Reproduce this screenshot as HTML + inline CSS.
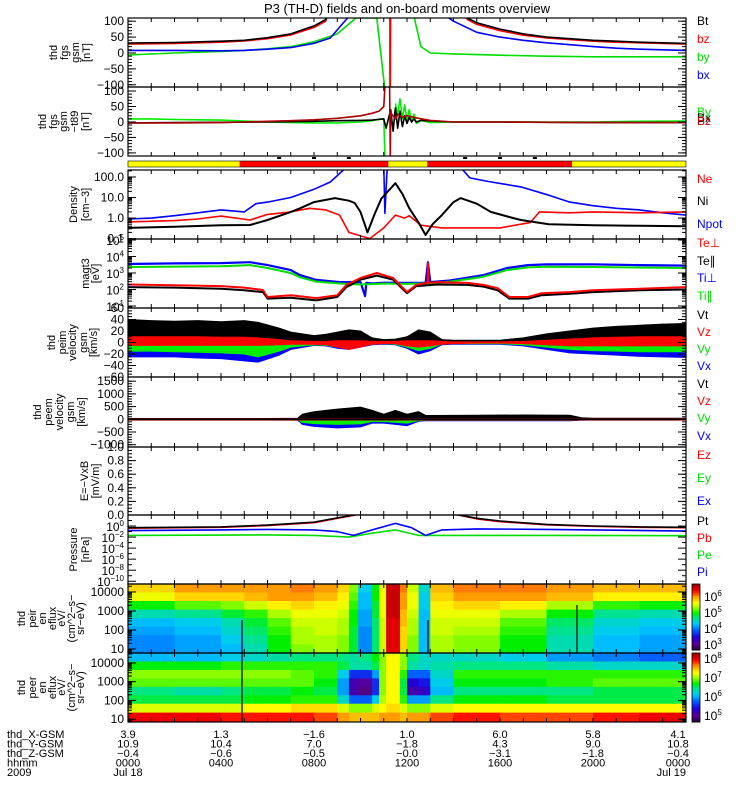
<!DOCTYPE html>
<html><head><meta charset="utf-8">
<style>
html,body{margin:0;padding:0;background:#fff;}
svg{display:block;font-family:"Liberation Sans",sans-serif;}
</style></head>
<body>
<svg id="chart" width="750" height="800" viewBox="0 0 750 800" xmlns="http://www.w3.org/2000/svg">
<rect x="0" y="0" width="750" height="800" fill="#fff"/>
<text x="407" y="13" font-size="13" text-anchor="middle">P3 (TH-D) fields and on-board moments overview</text>
<g id="g"></g>
</svg>
<script>
// ---------------- DATA ----------------
const tBt=[0,2,4,5,6,7,8,8.5,9,14,14.6,15,16,17,18,19,20,21,22,23,24];
const vBt=[31,33,37,40,48,60,85,105,200,200,110,95,75,60,50,45,40,37,34,32,30];
const tBz=[0,2,4,5,6,7,8,8.5,9,11.26,11.28,11.3,14,14.6,15,16,17,18,19,20,21,22,23,24];
const vBz=[28,30,34,38,45,57,80,100,200,200,-115,200,200,105,90,70,56,47,42,37,34,32,30,28];
const tBy=[0,2,4,5,6,7,8,9,9.8,10.7,11.05,11.1,11.25,11.27,11.29,12.3,12.6,13,14,15,16,18,20,22,24];
const vBy=[-6,0,5,8,13,20,35,60,110,110,-115,null,-115,115,null,115,20,0,-3,-5,-7,-10,-12,-12,-12];
const tBx=[0,2,4,5,6,7,8,8.7,9.5,13.7,14,15,16,17,18,19,20,21,22,23,24];
const vBx=[8,8,7,8,12,17,30,47,115,115,100,65,50,40,32,26,20,15,12,10,8];
const tRg=[0,1,2,3,4,5,6,7,8,9,10,10.5,10.9,11.0,11.05,11.15,11.5,11.6,11.7,11.8,11.9,12.0,12.1,12.2,12.3,12.4,12.6,13,14,16,18,20,22,24];
const vRg=[10,10,8,7,6,3,0,-2,-3,-3,0,4,10,10,-115,null,60,20,75,10,55,5,40,0,25,-5,5,-2,0,0,0,0,2,3];
const tRk=[0,2,4,6,8,9,10,10.5,11,11.1,11.3,11.4,11.5,11.6,11.7,11.8,11.9,12.0,12.1,12.2,12.3,12.4,12.6,13,14,16,20,24];
const vRk=[-3,-2,-1,0,2,4,5,6,10,-20,40,-30,45,-20,35,-15,20,-5,15,0,10,0,5,3,0,0,-2,-2];
const tRr=[0,2,4,5,6,7,8,9,10,10.5,10.8,11.0,11.05,11.25,11.28,11.3,11.5,11.6,11.8,12.0,12.5,13,14,16,20,24];
const vRr=[-3,-3,-2,0,2,4,7,12,20,28,35,50,115,115,-115,30,10,25,15,20,12,5,0,0,-2,-2];
const barT=[0,4.8,11.2,12.87,19.1,24];
const barState=['y','r','y','r','y'];
const tNpot=[0,1,2,3,4,5,5.5,6,7,8,8.7,9.4,10.9,11.0,11.05,11.15,14.3,14.7,15.5,16.9,18.1,19,20,21,22,23,24];
const vNpot=[0.9,1.0,1.3,1.8,2.5,2.0,5,6,10,25,57,300,300,300,1.7,300,300,90,60,33,13,6,4,3,2.5,1.8,1.4];
const tNi=[0,2,4,5.25,6,7,7.4,8,8.9,9.5,9.75,10,10.3,10.6,10.9,11.5,11.8,12.1,12.5,12.8,13.1,13.5,14,14.3,15,15.6,16.3,16.9,18.1,20,22,24];
const vNi=[0.33,0.38,0.45,0.46,0.8,2,3,6,9.4,7,5.4,2,0.2,1.5,9,50,15,3,0.6,0.15,0.5,1.4,6,9.4,5,2,1.2,0.8,0.5,0.45,0.42,0.4];
const tNe=[0,2,3,4,5.25,6,7,7.8,8.5,9.1,9.5,10.4,11,11.5,11.9,12.1,12.6,13.5,16,17.3,17.7,19,20,22,24];
const vNe=[0.65,0.75,0.9,1.25,0.8,1.5,2,3,2.5,1.4,0.2,0.1,0.33,1.4,1,1.3,0.45,0.33,0.33,0.6,2,1.8,2,1.8,2];
const tTip=[0,2,4,5.25,6,7,7.4,8.1,9.1,10,10.2,10.25,10.5,11,12,12.8,12.9,13.0,13.85,15.3,16.3,17.2,18,20,22,24];
const vTip=[3500,3800,4000,4500,3000,1500,750,380,280,280,40,250,230,260,250,250,4500,280,350,750,2000,3000,3300,3300,3000,2800];
const tTil=[0,4,5.25,6,7,7.4,8.1,9.1,10,11,12,13,13.85,15.3,16.3,17.2,18,20,24];
const vTil=[2300,2600,3000,2000,1000,550,300,230,200,230,220,240,300,600,1500,2200,2400,2300,2000];
const tTep=[0,2,4,5,5.8,6.0,7,8.1,9,9.4,10,10.7,11.4,12,12.4,12.88,12.9,12.92,13.3,14.6,15.3,15.9,16.4,17.2,17.8,19,20,22,24];
const vTep=[200,180,160,130,93,35,45,30,45,190,500,1000,500,70,190,250,4000,250,280,250,190,120,35,35,60,70,90,110,140];
const tTel=[0,2,4,5,5.8,6.0,7,8.1,9,9.4,10,10.7,11.4,12,12.4,13.3,14.6,15.3,15.9,16.4,17.2,17.8,19,20,22,24];
const vTel=[140,130,110,90,70,28,32,22,35,140,400,700,400,60,160,200,190,150,90,28,28,45,55,70,90,100];
const tV=[0,1,2,3,4,5,5.6,6.5,7,8,8.5,9,9.5,10,10.5,11,11.5,12,12.5,13,13.5,14,15,16,17,18,19,20,21,22,23,24];
const vtHi=[40,38,37,38,36,38,35,25,18,12,14,18,22,20,8,5,6,10,22,18,5,4,4,4,8,15,20,25,28,30,32,33];
const vtLo=[5,5,5,4,4,4,3,2,1,1,1,1,1,1,1,0,0,1,1,1,0,0,0,0,1,2,3,4,5,5,5,5];
const vzHi=[10,10,10,10,9,9,8,5,3,2,2,3,3,3,2,2,2,3,3,3,2,1,1,1,2,4,6,8,9,10,10,10];
const vzLo=[-5,-5,-5,-5,-5,-5,-5,-4,-3,-3,-4,-8,-12,-8,-3,-2,-2,-6,-8,-6,-3,-2,-1,-1,-2,-4,-6,-6,-6,-6,-6,-6];
const vyLo=[-15,-15,-16,-17,-18,-20,-25,-15,-8,-4,-5,-8,-10,-6,-3,-2,-3,-8,-14,-10,-3,-2,-2,-2,-4,-8,-12,-14,-15,-16,-16,-16];
const vxLo=[-25,-25,-25,-27,-28,-32,-34,-22,-12,-5,-6,-10,-12,-8,-4,-3,-4,-10,-20,-14,-4,-3,-3,-3,-6,-12,-18,-20,-22,-24,-25,-26];
const tP=[0,2,4,6,7.3,7.5,8,9,10,10.5,11,11.5,12,12.5,12.8,13,15,17,19,19.5,20,22,24];
const evtHi=[30,30,30,30,40,200,300,400,480,350,200,350,200,300,150,150,160,170,160,60,40,40,40];
const evxLo=[-20,-20,-20,-20,-30,-200,-280,-340,-300,-150,-150,-200,-250,-80,-60,-60,-60,-60,-60,-30,-20,-20,-20];
const evyLo=[-12,-12,-12,-12,-18,-120,-170,-200,-180,-90,-90,-120,-150,-50,-35,-35,-35,-35,-35,-18,-12,-12,-12];
const tPt=[0,4,6,8,9,10,14,15,16,18,20,22,24];
const vPt=[0.5,0.7,1.5,5,30,150,150,25,8,2,1,0.7,0.6];
const vPb=[0.4,0.6,1.2,4,25,150,150,20,6,1.7,0.9,0.6,0.5];
const tPi=[0,4,6,8,9,9.7,10.5,11.5,12.2,12.8,13.5,15,18,21,24];
const vPi=[0.15,0.2,0.25,0.2,0.1,0.02,0.2,3,0.5,0.02,0.2,0.3,0.25,0.18,0.12];
const tPe=[0,6,8,9.5,10.5,11.5,12.5,14,18,24];
const vPe=[0.02,0.025,0.02,0.01,0.05,0.2,0.02,0.02,0.02,0.018];
const tE=[0,2,4,5,6,7,8,9,9.5,9.9,10.5,10.8,11.1,11.7,12.0,12.5,13.0,14,16,18,20,22,24];
const ionE=[4.2,3.75,3.3,2.85,2.4,1.95,1.5,1.0];
const ionF=[
[5.8,6.0,6.0,6.0,6.0,6.1,6.0,5.8,5.3,4.4,5.0,5.6,6.6,6.1,5.5,4.5,5.9,6.1,6.1,6.0,5.9,5.9],
[5.6,5.8,5.8,5.9,6.0,6.0,5.9,5.7,5.2,4.3,5.0,5.6,6.6,6.0,5.6,4.4,5.8,6.0,6.0,5.9,5.7,5.7],
[5.0,5.2,5.3,5.5,5.7,5.8,5.7,5.6,5.1,4.3,4.9,5.6,6.6,6.0,5.6,4.4,5.7,5.8,5.7,5.4,5.1,5.0],
[4.6,4.7,4.9,5.1,5.4,5.6,5.6,5.5,5.0,4.2,4.9,5.6,6.6,5.9,5.5,4.3,5.6,5.6,5.4,5.0,4.7,4.6],
[4.3,4.4,4.6,4.9,5.2,5.5,5.5,5.4,5.0,4.2,4.8,5.5,6.5,5.9,5.4,4.3,5.5,5.5,5.2,4.8,4.5,4.4],
[4.2,4.3,4.5,4.8,5.1,5.4,5.5,5.4,4.9,4.1,4.8,5.5,6.5,5.8,5.4,4.3,5.5,5.4,5.1,4.7,4.4,4.3],
[4.1,4.2,4.4,4.7,5.0,5.4,5.4,5.3,4.9,4.1,4.8,5.5,6.5,5.8,5.3,4.3,5.4,5.3,5.0,4.6,4.3,4.2],
[4.1,4.2,4.3,4.6,5.0,5.3,5.4,5.3,4.9,4.1,4.8,5.5,6.5,5.8,5.3,4.3,5.4,5.3,5.0,4.6,4.3,4.2]];
const eleE=[4.3,3.85,3.4,2.95,2.5,2.05,1.6,1.1];
const eleF=[
[6.1,6.1,6.2,6.3,6.4,6.5,6.5,6.5,6.4,6.5,6.7,7.0,7.3,7.0,6.5,6.3,6.3,6.3,6.2,6.0,5.9,5.8],
[6.7,6.7,6.8,6.8,6.8,6.8,6.8,6.6,6.4,6.4,6.6,7.0,7.3,7.0,6.4,6.3,6.4,6.5,6.5,6.4,6.3,6.3],
[7.0,7.0,7.0,7.0,7.0,6.9,6.8,6.2,5.6,5.6,6.0,7.0,7.3,6.8,5.8,5.8,6.3,6.8,6.8,6.8,6.8,6.8],
[6.9,6.9,6.9,6.9,6.9,6.9,6.7,6.0,5.2,5.1,5.6,7.0,7.3,6.6,5.4,5.5,6.2,6.7,6.7,6.8,6.9,6.9],
[6.5,6.4,6.5,6.6,6.6,6.7,6.6,6.0,5.2,5.0,5.6,7.0,7.3,6.6,5.2,5.3,6.1,6.5,6.5,6.5,6.6,6.6],
[6.6,6.6,6.6,6.7,6.7,6.8,6.8,6.3,5.8,5.8,6.2,7.1,7.3,6.8,6.0,6.0,6.5,6.7,6.7,6.6,6.6,6.6],
[7.2,7.2,7.2,7.3,7.3,7.4,7.4,7.2,7.0,7.0,7.2,7.3,7.4,7.2,7.0,7.0,7.2,7.3,7.3,7.3,7.3,7.3],
[8.0,8.0,7.9,7.9,7.9,7.9,7.8,7.6,7.5,7.5,7.5,7.6,7.6,7.5,7.6,7.6,7.8,7.9,7.8,7.8,7.9,8.0]];
const ephX=['3.9','1.3','-1.6','1.0','6.0','5.8','4.1'];
const ephY=['10.9','10.4','7.0','-1.8','4.3','9.0','10.8'];
const ephZ=['-0.4','-0.6','-0.5','-0.0','-3.1','-1.8','-0.4'];
const hhmm=['0000','0400','0800','1200','1600','2000','0000'];

// ---------------- RENDER ----------------
const NS='http://www.w3.org/2000/svg';
const G=document.getElementById('g');
const X0=128,X1=686;
function xT(t){return X0+(X1-X0)*t/24;}
function mk(tag,attrs,parent){const e=document.createElementNS(NS,tag);for(const k in attrs)e.setAttribute(k,attrs[k]);(parent||G).appendChild(e);return e;}
const panels={
 fgs:{top:18,bot:87,log:false,min:-107,max:110},
 t89:{top:87,bot:156,log:false,min:-110,max:113},
 den:{top:170,bot:239,log:true,min:-1.02,max:2.34},
 tem:{top:239,bot:308,log:true,min:0.88,max:5.06},
 vi:{top:308,bot:377,log:false,min:-60,max:60},
 ve:{top:377,bot:447,log:false,min:-1090,max:1665},
 ef:{top:447,bot:515,log:false,min:0,max:1},
 pr:{top:515,bot:584,log:true,min:-10.5,max:2},
 ion:{top:584,bot:653,log:false,min:0.79,max:4.42},
 ele:{top:653,bot:722,log:false,min:0.85,max:4.53}
};
function yP(p,v){const P=panels[p];let u=P.log?Math.log10(v):v;return P.bot-(u-P.min)/(P.max-P.min)*(P.bot-P.top);}
const defs=mk('defs',{});
for(const k in panels){const P=panels[k];const c=mk('clipPath',{id:'c_'+k},defs);mk('rect',{x:X0,y:P.top,width:X1-X0,height:P.bot-P.top},c);}
function line(p,ts,vs,color,name,w){
  let segs=[],cur=[];
  for(let i=0;i<ts.length;i++){if(vs[i]===null){if(cur.length)segs.push(cur);cur=[];continue;}
    let y=yP(p,vs[i]);cur.push(xT(ts[i]).toFixed(1)+','+y.toFixed(1));}
  if(cur.length)segs.push(cur);
  segs.forEach(s=>{const el=mk('polyline',{points:s.join(' '),fill:'none',stroke:color,'stroke-width':w||1.6,'clip-path':'url(#c_'+p+')','stroke-linejoin':'round'});
    
    });
}
function band(p,ts,hi,lo,color,name){
  let pts=[];for(let i=0;i<ts.length;i++)pts.push(xT(ts[i]).toFixed(1)+','+yP(p,hi[i]).toFixed(1));
  for(let i=ts.length-1;i>=0;i--)pts.push(xT(ts[i]).toFixed(1)+','+yP(p,lo[i]).toFixed(1));
  const el=mk('polygon',{points:pts.join(' '),fill:color,stroke:color,'stroke-width':1,'clip-path':'url(#c_'+p+')'});
  
  
}
function cmap(u){
  const st=[[0,40,0,50],[0.1,90,0,150],[0.2,30,0,220],[0.3,0,90,255],[0.4,0,200,255],[0.5,0,230,130],[0.56,0,240,0],[0.65,160,255,0],[0.72,255,255,0],[0.82,255,140,0],[0.9,255,0,0],[1,150,0,0]];
  u=Math.max(0,Math.min(1,u));
  for(let i=1;i<st.length;i++){if(u<=st[i][0]){const a=st[i-1],b=st[i],f=(u-a[0])/(b[0]-a[0]);
    return 'rgb('+[1,2,3].map(j=>Math.round(a[j]+(b[j]-a[j])*f)).join(',')+')';}}
  return 'rgb(150,0,0)';
}
function spec(p,E,F,fmin,fmax,name){
  const P=panels[p];
  const edges=[P.top];
  for(let i=0;i<E.length-1;i++)edges.push(yP(p,(E[i]+E[i+1])/2));
  edges.push(P.bot);
  for(let i=0;i<E.length;i++)for(let j=0;j<tE.length-1;j++){
    const x=xT(tE[j]),w=xT(tE[j+1])-x;
    const el=mk('rect',{x:x.toFixed(1),y:edges[i].toFixed(1),width:(w+0.6).toFixed(1),height:(edges[i+1]-edges[i]+0.6).toFixed(1),fill:cmap((F[i][j]-fmin)/(fmax-fmin)),'clip-path':'url(#c_'+p+')'});
    
    
  }
}
spec('ion',ionE,ionF,2.7,6.8,'ion-spectrogram');
spec('ele',eleE,eleF,4.7,8.3,'electron-spectrogram');
[[242,620,722,'#000'],[577,605,653,'#000'],[428,620,653,'#000']].forEach(v=>{const el=mk('line',{x1:v[0],x2:v[0],y1:v[1],y2:v[2],stroke:v[3],'stroke-width':1.2});
 
 });
for(let i=0;i<barState.length;i++){const x=xT(barT[i]);
 const el=mk('rect',{x:x,y:161,width:xT(barT[i+1])-x,height:6,fill:barState[i]==='y'?'#ffff00':'#ff0000'});
 
 }
[6.5,8,9.5,14.5,16,17.5].forEach(t=>{const el=mk('rect',{x:xT(t)-2,y:157,width:4,height:2,fill:'#000'});
 
 });
line('fgs',tBy,vBy,'#00dd00','by-line');line('fgs',tBx,vBx,'#0000ff','bx-line');
line('fgs',tBz,vBz,'#ff0000','bz-line');line('fgs',tBt,vBt,'#000000','bt-line');
line('t89',tRg,vRg,'#00ee00','dby-line');line('t89',tRk,vRk,'#000000','dbx-line');line('t89',tRr,vRr,'#aa0000','dbz-line');
line('den',tNpot,vNpot,'#0000ff','npot-line');line('den',tNe,vNe,'#ff0000','ne-line');line('den',tNi,vNi,'#000000','ni-line',2);
line('tem',tTip,vTip,'#0000ff','ti-perp-line',2.2);line('tem',tTil,vTil,'#00dd00','ti-par-line',2);
line('tem',tTel,vTel,'#000000','te-par-line',2);line('tem',tTep,vTep,'#ff0000','te-perp-line',2);
const zeroV=tV.map(()=>0);
band('vi',tV,zeroV,vxLo,'#0000ff','vx-band');band('vi',tV,zeroV.map(()=>3),vyLo,'#00ee00','vy-band');
band('vi',tV,vtHi,vtLo,'#000000','vt-band');band('vi',tV,vzHi,vzLo,'#ff0000','vz-band');
const zeroP=tP.map(()=>0);
band('ve',tP,zeroP,evxLo,'#0000ff','evx-band');band('ve',tP,zeroP,evyLo,'#00ee00','evy-band');
band('ve',tP,evtHi,zeroP.map(()=>20),'#000000','evt-band');band('ve',tP,zeroP.map(()=>30),zeroP.map(()=>-30),'#ff0000','evz-band');
line('ve',[0,24],[0,0],'#000000','evt-baseline',2);
line('pr',tPe,vPe,'#00dd00','pe-line');line('pr',tPi,vPi,'#0000ff','pi-line');
line('pr',tPt,vPb,'#ff0000','pb-line');line('pr',tPt,vPt,'#000000','pt-line');

function txt(x,y,s,opt,name){const el=mk('text',Object.assign({x:x,y:y,'font-size':12},opt||{}));el.textContent=s;
 
 return el;}
function supTxt(x,y,base,exp,name,col){const el=mk('text',{x:x,y:y,'font-size':12,'text-anchor':'end',fill:col||'#000'});
 const a=mk('tspan',{},el);a.textContent=base;const b=mk('tspan',{dy:-5,'font-size':8},el);b.textContent=exp;
 
 }
function tick(x1,y1,x2,y2){const el=mk('line',{x1:x1,y1:y1,x2:x2,y2:y2,stroke:'#000','stroke-width':1});
 
 }
function yTicks(p,major,minor){const P=panels[p];
 minor.forEach(v=>{const y=yP(p,v);if(y<P.top-0.5||y>P.bot+0.5)return;tick(X0,y,X0+4,y);tick(X1,y,X1-4,y);});
 major.forEach(v=>{const y=yP(p,v);if(y<P.top-0.5||y>P.bot+0.5)return;tick(X0,y,X0+8,y);tick(X1,y,X1-8,y);});}
function range(a,b,s){const r=[];for(let v=a;v<=b+1e-9;v+=s)r.push(+v.toFixed(6));return r;}
function logMinor(a,b){const r=[];for(let d=a;d<=b;d++)for(let m=1;m<10;m++)r.push(m*Math.pow(10,d));return r;}
yTicks('fgs',[100,50,0,-50,-100],range(-100,100,10));
yTicks('t89',[100,50,0,-50,-100],range(-100,100,10));
yTicks('den',[100,10,1,0.1],logMinor(-1,2));
yTicks('tem',[1e5,1e4,1e3,1e2,1e1],logMinor(0,5));
yTicks('vi',range(-60,60,20),range(-60,60,5));
yTicks('ve',range(-1000,1500,500),range(-1000,1500,100));
yTicks('ef',range(0,1,0.2),range(0,1,0.05));
yTicks('pr',[1,1e-2,1e-4,1e-6,1e-8,1e-10],[1e1,1e-1,1e-3,1e-5,1e-7,1e-9]);
yTicks('ion',[4,3,2,1],logMinor(0,4).map(v=>Math.log10(v)));
yTicks('ele',[4,3,2,1],logMinor(0,4).map(v=>Math.log10(v)));
for(const k in panels){const P=panels[k];for(let h=1;h<24;h++){const x=xT(h);tick(x,P.top,x,P.top+4);tick(x,P.bot,x,P.bot-4);}}
for(const k in panels){const P=panels[k];const el=mk('rect',{x:X0,y:P.top,width:X1-X0,height:P.bot-P.top,fill:'none',stroke:'#000','stroke-width':1.2});
 
 }
{const el=mk('rect',{x:X0,y:161,width:X1-X0,height:6,fill:'none',stroke:'#000','stroke-width':0.6});
 
 }
const LX=124;
function ylab(p,vals,strs){vals.forEach((v,i)=>txt(LX,yP(p,v)+4,strs[i],{'text-anchor':'end'},'y-tick-label'));}
ylab('fgs',[100,50,0,-50,-100],['100','50','0','\u221250','\u2212100']);
ylab('t89',[100,50,0,-50,-100],['100','50','0','\u221250','\u2212100']);
ylab('den',[100,10,1,0.1],['100.0','10.0','1.0','0.1']);
[5,4,3,2,1].forEach(e=>supTxt(LX,yP('tem',Math.pow(10,e))+5,'10',String(e),'y-tick-label'));
ylab('vi',range(-60,60,20),['\u221260','\u221240','\u221220','0','20','40','60']);
ylab('ve',range(-1000,1500,500),['\u22121000','\u2212500','0','500','1000','1500']);
ylab('ef',range(0,1,0.2),['0.0','0.2','0.4','0.6','0.8','1.0']);
[0,-2,-4,-6,-8,-10].forEach(e=>supTxt(LX,yP('pr',Math.pow(10,e))+5,'10',e===0?'0':'\u2212'+(-e),'y-tick-label'));
ylab('ion',[4,3,2,1],['10000','1000','100','10']);
ylab('ele',[4,3,2,1],['10000','1000','100','10']);
function ytitle(p,lines,xs,name){const P=panels[p];const cy=(P.top+P.bot)/2;
 lines.forEach((s,i)=>{const el=mk('text',{x:0,y:0,'font-size':11,'text-anchor':'middle',transform:'translate('+xs[i]+','+cy+') rotate(-90)'});el.textContent=s;
  
  });}
ytitle('fgs',['thd','fgs','gsm','[nT]'],[57,68,79,90],'fgs-axis-title');
ytitle('t89',['thd','fgs','gsm','\u2212t89','[nT]'],[46,57,67,78,89],'t89-axis-title');
ytitle('den',['Density','[cm\u22123]'],[77,89],'density-axis-title');
ytitle('tem',['magt3','[eV]'],[89,99],'temperature-axis-title');
ytitle('vi',['thd','peim','velocity','gsm','[km/s]'],[55,66,76,87,97],'peim-velocity-axis-title');
ytitle('ve',['thd','peem','velocity','gsm','[km/s]'],[41,52,63,74,85],'peem-velocity-axis-title');
ytitle('ef',['E=\u2212VxB','[mV/m]'],[88,99],'efield-axis-title');
ytitle('pr',['Pressure','[nPa]'],[77,89],'pressure-axis-title');
ytitle('ion',['thd','peir','en','eflux','eV/','(cm^2\u2212s\u2212','sr\u2212eV)'],[25,36,46,56,65,75,84],'ion-eflux-axis-title');
ytitle('ele',['thd','peer','en','eflux','eV/','(cm^2\u2212s\u2212','sr\u2212eV)'],[25,36,46,56,65,75,84],'electron-eflux-axis-title');
const LG=697;
[['Bt','#000',25],['bz','#ff0000',43],['by','#00dd00',61],['bx','#0000ff',79],
 ['By','#00dd00',116],['Bx','#000',122],['Bz','#cc0000',125],
 ['Ne','#ff0000',183],['Ni','#000',205],['Npot','#0000ff',228],
 ['Te\u22a5','#ff0000',247],['Te\u2225','#000',265],['Ti\u22a5','#0000ff',282],['Ti\u2225','#00dd00',300],
 ['Vt','#000',319],['Vz','#ff0000',336],['Vy','#00dd00',353],['Vx','#0000ff',370],
 ['Vt','#000',388],['Vz','#ff0000',405],['Vy','#00dd00',422],['Vx','#0000ff',440],
 ['Ez','#ff0000',459],['Ey','#00dd00',482],['Ex','#0000ff',505],
 ['Pt','#000',525],['Pb','#ff0000',542],['Pe','#00dd00',559],['Pi','#0000ff',576]
].forEach(l=>txt(LG,l[2],l[0],{fill:l[1]},'legend-entry-'+l[0].toLowerCase()));
function cbar(y0,y1,name){const n=40;for(let i=0;i<n;i++){const y=y1-(i+1)*(y1-y0)/n;
 const el=mk('rect',{x:692,y:y.toFixed(1),width:8,height:((y1-y0)/n+0.5).toFixed(1),fill:cmap((i+0.5)/n)});
 
 }
 const f=mk('rect',{x:692,y:y0,width:8,height:y1-y0,fill:'none',stroke:'#000','stroke-width':0.8});
 
 }
cbar(584,650,'ion-colorbar');cbar(653,722,'electron-colorbar');
[[6,601],[5,617],[4,633],[3,649]].forEach(a=>{const el=mk('text',{x:704,y:a[1],'font-size':12});const s1=mk('tspan',{},el);s1.textContent='10';const s2=mk('tspan',{dy:-5,'font-size':8},el);s2.textContent=String(a[0]);
 
 });
[[8,663],[7,682],[6,701],[5,720]].forEach(a=>{const el=mk('text',{x:704,y:a[1],'font-size':12});const s1=mk('tspan',{},el);s1.textContent='10';const s2=mk('tspan',{dy:-5,'font-size':8},el);s2.textContent=String(a[0]);
 
 });
const rows=[['thd_X-GSM',ephX,738],['thd_Y-GSM',ephY,747.5],['thd_Z-GSM',ephZ,757],['hhmm',hhmm,766.5]];
rows.forEach(r=>{txt(7,r[2],r[0],{'font-size':11},'ephemeris-row-label');
 r[1].forEach((s,i)=>{const x=i===6?678:xT(i*4);txt(x,r[2],s.replace('-','\u2212'),{'text-anchor':'middle','font-size':11},'ephemeris-value');});});
txt(7,776,'2009',{'font-size':11},'year-label');
txt(xT(0),776,'Jul 18',{'text-anchor':'middle','font-size':11},'date-start-label');
txt(686,776,'Jul 19',{'text-anchor':'end','font-size':11},'date-end-label');
</script>
</body></html>
